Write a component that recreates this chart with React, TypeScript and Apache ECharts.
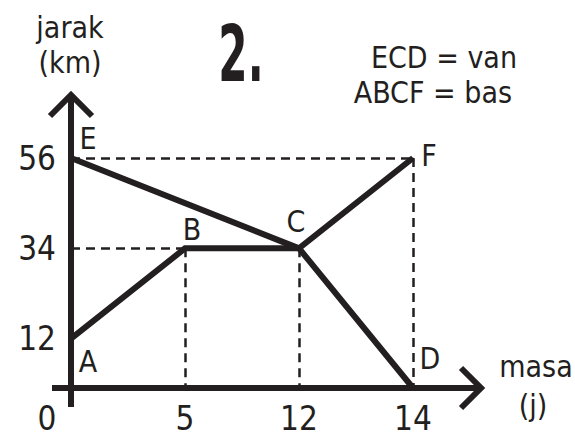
import React, { useEffect, useRef } from "react";
import * as echarts from "echarts";

// ---- data ----
const hourTicks = ["0", "5", "12", "14"];
const distanceTicks = [12, 34, 56];

const vanHours = ["0", "12", "14"];
const vanDistance = [56, 34, 0];
const vanPoints = ["E", "C", "D"];

const busHours = ["0", "5", "12", "14"];
const busDistance = [12, 34, 34, 56];
const busPoints = ["A", "B", "", "F"];

const routeNames = ["ECD", "ABCF"];
const vehicleNames = ["van", "bas"];
const axisTitles = ["jarak", "(km)", "masa", "(j)"];
const chartTitle = "2.";

// ---- styles ----
const INK = "#231f20";
const FONT = "'DejaVu Sans Condensed', 'DejaVu Sans', sans-serif";
const labelOffsets: Record<string, [number, number]> = {
  E: [17, -20],
  B: [7, -19],
  C: [-3, -27],
  F: [16, -3],
  A: [17, 23],
  D: [17, -30],
};

const G = { left: 71, right: 162, top: 158, bottom: 49 };
const W = 575;
const H = 437;
const axisX = G.left;
const axisY = H - G.bottom;

export default function App() {
  const ref = useRef<HTMLDivElement>(null);
  useEffect(() => {
    if (!ref.current) return;
    const chart = echarts.init(ref.current, null, { renderer: "svg" });

    const mkData = (hrs: string[], vals: number[], names: string[]) =>
      hrs.map((h, i) => ({
        name: names[i],
        value: [h, vals[i]],
        label: { offset: labelOffsets[names[i]] || [0, 0] },
      }));

    // guide lines derived from the bus points
    const bIdx = 1;
    const cIdx = 2;
    const fIdx = 3;
    const guides = [
      [{ coord: [hourTicks[0], busDistance[fIdx]] }, { coord: [busHours[fIdx], busDistance[fIdx]] }],
      [{ coord: [hourTicks[0], busDistance[bIdx]] }, { coord: [busHours[bIdx], busDistance[bIdx]] }],
      [{ coord: [busHours[bIdx], busDistance[bIdx]] }, { coord: [busHours[bIdx], 0] }],
      [{ coord: [busHours[cIdx], busDistance[cIdx]] }, { coord: [busHours[cIdx], 0] }],
      [{ coord: [busHours[fIdx], busDistance[fIdx]] }, { coord: [busHours[fIdx], 0] }],
    ];

    const seriesLabel = {
      show: true,
      position: "inside",
      formatter: "{b}",
      fontFamily: FONT,
      fontSize: 30,
      color: INK,
    };

    const option: any = {
      animation: false,
      grid: { ...G, outerBoundsMode: "none" },
      xAxis: {
        type: "category",
        data: hourTicks,
        boundaryGap: false,
        axisLine: { show: false },
        axisTick: { show: false },
        splitLine: { show: false },
        axisLabel: {
          margin: 14,
          fontFamily: FONT,
          fontSize: 33,
          color: INK,
          formatter: (v: string) => (v === "0" ? "{o|0}" : v),
          rich: { o: { fontFamily: FONT, fontSize: 33, color: INK, padding: [0, 48, 0, 0] } },
        },
      },
      yAxis: {
        type: "value",
        min: 0,
        max: 56,
        axisLine: { show: false },
        axisTick: { show: false },
        splitLine: { show: false },
        axisLabel: {
          customValues: distanceTicks,
          margin: 15,
          fontFamily: FONT,
          fontSize: 33,
          color: INK,
        },
      },
      series: [
        {
          name: routeNames[1],
          type: "line",
          data: mkData(busHours, busDistance, busPoints),
          symbol: "circle",
          symbolSize: 1,
          itemStyle: { color: INK },
          lineStyle: { color: INK, width: 6, join: "miter", cap: "butt" },
          label: seriesLabel,
          silent: true,
          z: 3,
          markLine: {
            silent: true,
            symbol: "none",
            label: { show: false },
            lineStyle: { color: INK, width: 2.5, type: [9, 6] },
            data: guides,
            z: 1,
          },
        },
        {
          name: routeNames[0],
          type: "line",
          data: mkData(vanHours, vanDistance, vanPoints),
          symbol: "circle",
          symbolSize: 1,
          itemStyle: { color: INK },
          lineStyle: { color: INK, width: 6, join: "miter", cap: "butt" },
          label: seriesLabel,
          silent: true,
          z: 3,
        },
      ],
      graphic: [
        // y axis with open arrow
        { type: "line", shape: { x1: axisX, y1: axisY + 19, x2: axisX, y2: 95 }, style: { stroke: INK, lineWidth: 6 }, z: 5 },
        { type: "polyline", shape: { points: [[axisX - 21, 116], [axisX, 95], [axisX + 21, 116]] }, style: { stroke: INK, lineWidth: 6, fill: null }, z: 5 },
        // x axis with open arrow
        { type: "line", shape: { x1: 52, y1: axisY, x2: 481, y2: axisY }, style: { stroke: INK, lineWidth: 6 }, z: 5 },
        { type: "polyline", shape: { points: [[461, axisY - 20], [481, axisY], [461, axisY + 20]] }, style: { stroke: INK, lineWidth: 6, fill: null }, z: 5 },
        // axis names
        { type: "text", x: 70, y: 27, style: { text: axisTitles[0], font: `30px ${FONT}`, fill: INK, align: "center", verticalAlign: "middle" } },
        { type: "text", x: 70, y: 62, style: { text: axisTitles[1], font: `30px ${FONT}`, fill: INK, align: "center", verticalAlign: "middle" } },
        { type: "text", x: 536, y: 366, style: { text: axisTitles[2], font: `30px ${FONT}`, fill: INK, align: "center", verticalAlign: "middle" } },
        { type: "text", x: 533, y: 405, style: { text: axisTitles[3], font: `30px ${FONT}`, fill: INK, align: "center", verticalAlign: "middle" } },
        // title
        { type: "text", x: 241, y: 54, scaleX: 0.6, style: { text: chartTitle, font: `bold 78px ${FONT}`, fill: INK, align: "center", verticalAlign: "middle" } },
        // key
        { type: "text", x: 517, y: 57, style: { text: `${routeNames[0]} = ${vehicleNames[0]}`, font: `30px ${FONT}`, fill: INK, align: "right", verticalAlign: "middle" } },
        { type: "text", x: 512, y: 92, style: { text: `${routeNames[1]} = ${vehicleNames[1]}`, font: `30px ${FONT}`, fill: INK, align: "right", verticalAlign: "middle" } },
      ],
    };
    chart.setOption(option);
    return () => chart.dispose();
  }, []);

  return (
    <div
      ref={ref}
      style={{ position: "absolute", left: 0, top: 0, width: W, height: H, background: "#fff" }}
    />
  );
}
